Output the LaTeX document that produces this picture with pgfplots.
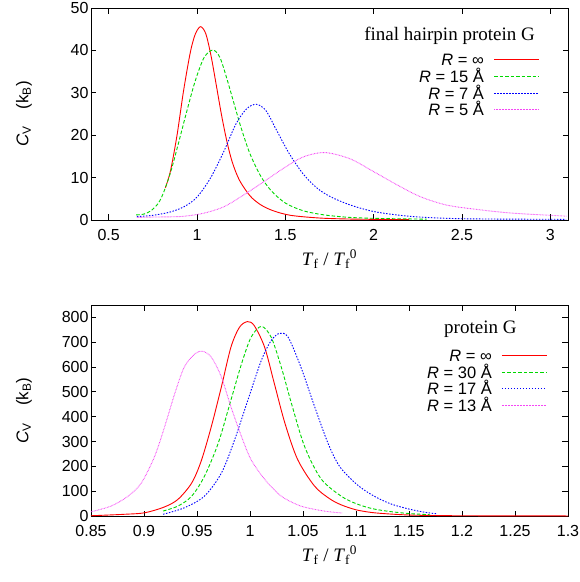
\documentclass[border=0pt]{standalone}
\usepackage{fontspec}
\setmainfont{Liberation Sans}
\newfontfamily\serif{Liberation Serif}
\usepackage{pgfplots}
\pgfplotsset{compat=1.18}

\definecolor{gpred}{RGB}{255,0,0}
\definecolor{gpgreen}{RGB}{0,215,0}
\definecolor{gpblue}{RGB}{0,0,255}
\definecolor{gpmag}{RGB}{245,70,245}

\newcommand\sfs{\fontsize{16bp}{18bp}\selectfont}
\newcommand\lgs{\fontsize{16.5bp}{18bp}\selectfont}
\newcommand\lbl{\serif\fontsize{19bp}{21bp}\selectfont}

\tikzset{
  c1/.style={color=gpred},
  c2/.style={color=gpgreen, dash pattern=on 3.5bp off 2bp},
  c3/.style={color=gpblue, dash pattern=on 1.5bp off 1.5bp},
  c4/.style={color=gpmag, dash pattern=on 0.7bp off 0.8bp},
  key/.style={line width=1.4bp},
  ktext/.style={anchor=base east, inner sep=0pt, font=\lgs},
}

\pgfplotsset{
  gp/.style={
    scale only axis, width=477bp,
    axis line style={line width=0.8bp},
    every tick/.style={black, line width=0.8bp},
    major tick length=5.5bp,
    tick align=inside,
    /pgf/number format/assume math mode=true,
    tick label style={font=\sfs},
    xticklabel style={yshift=-5.5bp},
    yticklabel style={xshift=1bp},
    every axis plot/.append style={line width=0.9bp, smooth, tension=0.5},
    ylabel={\itshape C\upshape\textsubscript{V}\quad(k\textsubscript{B})},
    xlabel={\lbl\textit{T}\textsubscript{f} / \textit{T}\textsubscript{f}\textsuperscript{0}},
    ylabel style={font=\fontsize{17bp}{19bp}\selectfont, at={(rel axis cs:-0.1405,0.5)}, anchor=center, rotate=0},
  },
}

\begin{document}
\begin{tikzpicture}
\begin{axis}[gp, name=top, at={(0,0)}, anchor=north west,
  height=212bp,
  xmin=0.4, xmax=3.1, ymin=0, ymax=50,
  xtick={0.5,1,1.5,2,2.5,3}, ytick={0,10,20,30,40,50},
  xlabel style={at={(rel axis cs:0.5,-0.184)}, anchor=center},
]
\addplot[c1] coordinates {
 (0.821,7.6) (0.85,11.6) (0.887,20.0) (0.924,30.5) (0.962,39.5) (0.99,43.8)
 (1.02,45.6) (1.05,43.9) (1.08,38.6) (1.11,31.6) (1.14,24.5) (1.17,18.4)
 (1.20,13.6) (1.24,9.4) (1.30,5.7) (1.36,3.6) (1.43,2.2) (1.53,1.1)
 (1.7,0.45) (1.9,0.2) (2.2,0.1)
};
\addplot[c2] coordinates {
 (0.656,1.2) (0.70,1.4) (0.74,2.2) (0.78,3.9) (0.81,6.4) (0.85,11.2)
 (0.89,17.3) (0.94,25.3) (0.99,32.8) (1.04,38.3) (1.09,40.1) (1.13,38.3)
 (1.17,33.2) (1.21,27.4) (1.25,21.7) (1.30,15.6) (1.36,10.4) (1.42,6.9)
 (1.50,4.0) (1.60,2.2) (1.72,1.2) (1.87,0.6) (2.05,0.35) (2.3,0.2)
};
\addplot[c3] coordinates {
 (0.66,0.8) (0.75,1.1) (0.85,1.9) (0.93,3.2) (1.0,5.4) (1.075,9.8)
 (1.15,16.0) (1.22,22.6) (1.28,26.2) (1.336,27.3) (1.39,25.8) (1.45,21.2)
 (1.52,15.8) (1.60,10.9) (1.68,7.5) (1.76,5.4) (1.87,3.5) (2.0,2.0)
 (2.15,1.1) (2.3,0.6) (2.5,0.3) (2.8,0.2) (3.09,0.16)
};
\addplot[c4] coordinates {
 (0.66,0.6) (0.75,0.7) (0.85,0.75) (0.93,0.9) (1.038,1.6) (1.151,3.1)
 (1.264,5.9) (1.377,9.0) (1.49,12.2) (1.603,14.9) (1.726,15.9) (1.868,14.4)
 (2.0,11.4) (2.132,8.3) (2.264,5.5) (2.415,3.5) (2.603,2.4) (2.792,1.6)
 (3.094,0.9)
};
% key
\node[anchor=base east, inner sep=0pt, font=\lbl] at (rel axis cs:0.9308,0.8458) {final hairpin protein G};
\node[ktext] at (rel axis cs:0.8239,0.73113) {\textit{R} = ∞};
\node[ktext] at (rel axis cs:0.8239,0.65094) {\textit{R} = 15 Å};
\node[ktext] at (rel axis cs:0.8239,0.57075) {\textit{R} = 7 Å};
\node[ktext] at (rel axis cs:0.8239,0.49528) {\textit{R} = 5 Å};
\draw[c1, key] (rel axis cs:0.8449,0.75708) -- (rel axis cs:0.9392,0.75708);
\draw[c2, key] (rel axis cs:0.8449,0.67689) -- (rel axis cs:0.9392,0.67689);
\draw[c3, key] (rel axis cs:0.8449,0.59670) -- (rel axis cs:0.9392,0.59670);
\draw[c4, key] (rel axis cs:0.8449,0.52123) -- (rel axis cs:0.9392,0.52123);
\end{axis}

\begin{axis}[gp, name=bottom, at={(0,-297bp)}, anchor=north west,
  height=211bp,
  xmin=0.85, xmax=1.3, ymin=0, ymax=850,
  xtick={0.85,0.9,0.95,1,1.05,1.1,1.15,1.2,1.25,1.3},
  ytick={0,100,200,300,400,500,600,700,800},
  xticklabel style={/pgf/number format/precision=2},
  xlabel style={at={(rel axis cs:0.5,-0.185)}, anchor=center},
]
\addplot[c1] coordinates {
 (0.85,1) (0.882,7) (0.9006,13) (0.919,36) (0.932,67) (0.945,133) (0.954,222)
 (0.9635,360) (0.973,520) (0.982,680) (0.990,760) (0.9975,783) (1.004,767)
 (1.0138,680) (1.023,533) (1.033,373) (1.045,227) (1.061,120) (1.075,70)
 (1.086,45) (1.10,25) (1.115,14) (1.132,8) (1.15,4) (1.165,2.5) (1.2,1) (1.3,0.2)
};
\addplot[c2] coordinates {
 (0.918,20) (0.932,40) (0.945,80) (0.957,160) (0.970,293) (0.982,467)
 (0.992,613) (1.001,720) (1.0107,764) (1.020,720) (1.0295,600) (1.039,455)
 (1.0515,280) (1.067,150) (1.086,80) (1.10,50) (1.115,30) (1.132,18)
 (1.15,10) (1.17,5)
};
\addplot[c3] coordinates {
 (0.918,7) (0.938,33) (0.957,80) (0.973,173) (0.9855,307) (0.998,467)
 (1.0107,627) (1.020,707) (1.028,736) (1.036,720) (1.048,600) (1.061,440)
 (1.0736,293) (1.0845,200) (1.10,130) (1.115,85) (1.132,50) (1.15,28)
 (1.165,15) (1.176,9)
};
\addplot[c4] coordinates {
 (0.85,17) (0.869,40) (0.885,80) (0.8975,133) (0.910,240) (0.9195,360)
 (0.929,493) (0.938,600) (0.948,653) (0.955,664) (0.9635,640) (0.973,560)
 (0.982,440) (0.992,320) (1.001,227) (1.014,147) (1.0295,80) (1.048,40)
 (1.070,20) (1.087,12)
};
% key
\node[anchor=base east, inner sep=0pt, font=\lbl] at (rel axis cs:0.8925,0.8626) {protein G};
\node[ktext] at (rel axis cs:0.84067,0.73460) {\textit{R} = ∞};
\node[ktext] at (rel axis cs:0.84067,0.65403) {\textit{R} = 30 Å};
\node[ktext] at (rel axis cs:0.84067,0.57820) {\textit{R} = 17 Å};
\node[ktext] at (rel axis cs:0.84067,0.49763) {\textit{R} = 13 Å};
\draw[c1, key] (rel axis cs:0.86164,0.76066) -- (rel axis cs:0.95597,0.76066);
\draw[c2, key] (rel axis cs:0.86164,0.68009) -- (rel axis cs:0.95597,0.68009);
\draw[c3, key] (rel axis cs:0.86164,0.60427) -- (rel axis cs:0.95597,0.60427);
\draw[c4, key] (rel axis cs:0.86164,0.52370) -- (rel axis cs:0.95597,0.52370);
\end{axis}
\pgfresetboundingbox
\path (-91bp,8bp) rectangle (489bp,-574bp);
\end{tikzpicture}
\end{document}
